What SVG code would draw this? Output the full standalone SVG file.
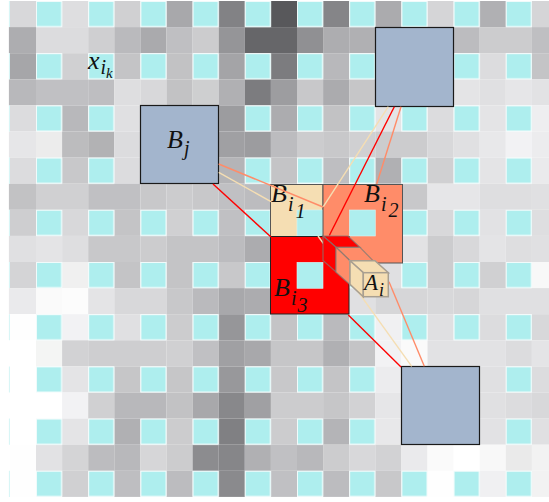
<svg xmlns="http://www.w3.org/2000/svg" width="549" height="502" viewBox="0 0 549 502">
<style>
.m{font-family:"Liberation Serif","DejaVu Serif",serif;font-style:italic;font-size:26px;fill:#111}
.s{font-size:20px}
.b{fill:#a3b5cd;stroke:#1a1a1a;stroke-width:1.2}
.l{fill:none;stroke-width:1.4}
.r{stroke:#f00}.o{stroke:#ff8c69}.w{stroke:#f5deb3}
.c{stroke:#7f7a74;stroke-width:1.2;stroke-opacity:.75}
.t{stroke:#a89f91;stroke-width:1.5}
.h{fill:#aeeeee;stroke:#d8f6f6;stroke-width:.6}
</style>
<defs>
<pattern id="cy" patternUnits="userSpaceOnUse" x="36" y="1" width="52" height="52"><rect x=".5" y=".5" width="25" height="25" fill="#aeeeee" stroke="#f0fbfb" stroke-width="1"/></pattern>
</defs>
<rect width="549" height="502" fill="#fff"/>
<g id="grid" transform="translate(-.139 -.004) scale(1.00385)">
<g id="r0"><rect x="10" y="1" width="26" height="26" fill="#d8d8da"/><rect x="62" y="1" width="26" height="26" fill="#dedee0"/><rect x="114" y="1" width="26" height="26" fill="#d0d0d2"/><rect x="166" y="1" width="26" height="26" fill="#a8a8ab"/><rect x="218" y="1" width="26" height="26" fill="#828285"/><rect x="270" y="1" width="26" height="26" fill="#58585b"/><rect x="322" y="1" width="26" height="26" fill="#858588"/><rect x="374" y="1" width="26" height="26" fill="#ababae"/><rect x="426" y="1" width="26" height="26" fill="#d5d5d7"/><rect x="478" y="1" width="26" height="26" fill="#b0b0b3"/><rect x="530" y="1" width="19" height="26" fill="#d5d5d7"/></g>
<g id="r1"><rect x="9" y="27" width="27" height="26" fill="#adadb0"/><rect x="36" y="27" width="52" height="26" fill="#dcdcde"/><rect x="88" y="27" width="26" height="26" fill="#cfcfd1"/><rect x="114" y="27" width="26" height="26" fill="#bababd"/><rect x="140" y="27" width="26" height="26" fill="#aaaaad"/><rect x="166" y="27" width="26" height="26" fill="#bfbfc2"/><rect x="192" y="27" width="26" height="26" fill="#ccccce"/><rect x="218" y="27" width="26" height="26" fill="#959598"/><rect x="244" y="27" width="52" height="26" fill="#666669"/><rect x="296" y="27" width="26" height="26" fill="#909093"/><rect x="322" y="27" width="26" height="26" fill="#adadb0"/><rect x="348" y="27" width="26" height="26" fill="#b0b0b3"/><rect x="374" y="27" width="78" height="26" fill="#a9a9ac"/><rect x="452" y="27" width="26" height="26" fill="#bcbcbf"/><rect x="478" y="27" width="52" height="26" fill="#ccccce"/><rect x="530" y="27" width="19" height="26" fill="#bfbfc2"/></g>
<g id="r2"><rect x="10" y="53" width="26" height="26" fill="#a6a6a9"/><rect x="62" y="53" width="26" height="26" fill="#d0d0d2"/><rect x="114" y="53" width="26" height="26" fill="#c4c4c6"/><rect x="166" y="53" width="26" height="26" fill="#c2c2c4"/><rect x="218" y="53" width="26" height="26" fill="#a4a4a7"/><rect x="270" y="53" width="26" height="26" fill="#7c7c7f"/><rect x="322" y="53" width="26" height="26" fill="#b8b8bb"/><rect x="478" y="53" width="26" height="26" fill="#dcdcde"/><rect x="530" y="53" width="19" height="26" fill="#c4c4c6"/></g>
<g id="r3"><rect x="9" y="79" width="27" height="26" fill="#b8b8bb"/><rect x="36" y="79" width="52" height="26" fill="#c0c0c3"/><rect x="88" y="79" width="26" height="26" fill="#bebec1"/><rect x="114" y="79" width="26" height="26" fill="#dedee0"/><rect x="140" y="79" width="26" height="26" fill="#d8d8da"/><rect x="166" y="79" width="26" height="26" fill="#c2c2c4"/><rect x="192" y="79" width="26" height="26" fill="#cecfd0"/><rect x="218" y="79" width="26" height="26" fill="#b0b0b3"/><rect x="244" y="79" width="26" height="26" fill="#7c7c7f"/><rect x="270" y="79" width="26" height="26" fill="#9d9da0"/><rect x="296" y="79" width="26" height="26" fill="#c8c8ca"/><rect x="322" y="79" width="26" height="26" fill="#ababae"/><rect x="348" y="79" width="26" height="26" fill="#c6c6c8"/><rect x="452" y="79" width="26" height="26" fill="#e4e4e6"/><rect x="478" y="79" width="26" height="26" fill="#e0e0e2"/><rect x="504" y="79" width="26" height="26" fill="#e6e6e8"/><rect x="530" y="79" width="19" height="26" fill="#e2e2e4"/></g>
<g id="r4"><rect x="10" y="105" width="26" height="26" fill="#dcdcde"/><rect x="62" y="105" width="26" height="26" fill="#b8b8bb"/><rect x="114" y="105" width="26" height="26" fill="#e0e0e2"/><rect x="218" y="105" width="26" height="26" fill="#9c9c9f"/><rect x="270" y="105" width="26" height="26" fill="#acacaf"/><rect x="322" y="105" width="26" height="26" fill="#c2c2c4"/><rect x="374" y="105" width="26" height="26" fill="#e4e4e6"/><rect x="426" y="105" width="26" height="26" fill="#dcdcde"/><rect x="478" y="105" width="26" height="26" fill="#e4e4e6"/><rect x="530" y="105" width="19" height="26" fill="#eeeef0"/></g>
<g id="r5"><rect x="9" y="131" width="27" height="26" fill="#e6e6e8"/><rect x="36" y="131" width="26" height="26" fill="#ececec"/><rect x="62" y="131" width="26" height="26" fill="#bcbcbe"/><rect x="88" y="131" width="26" height="26" fill="#b2b2b4"/><rect x="114" y="131" width="26" height="26" fill="#dcdcde"/><rect x="218" y="131" width="26" height="26" fill="#a0a0a3"/><rect x="244" y="131" width="26" height="26" fill="#9c9c9f"/><rect x="270" y="131" width="26" height="26" fill="#bcbcbf"/><rect x="296" y="131" width="26" height="26" fill="#ccccce"/><rect x="322" y="131" width="26" height="26" fill="#c8c8ca"/><rect x="348" y="131" width="26" height="26" fill="#d0d0d2"/><rect x="374" y="131" width="52" height="26" fill="#ccccce"/><rect x="426" y="131" width="26" height="26" fill="#d8d8da"/><rect x="452" y="131" width="26" height="26" fill="#e0e0e2"/><rect x="478" y="131" width="26" height="26" fill="#e8e8ea"/><rect x="504" y="131" width="26" height="26" fill="#f2f2f4"/><rect x="530" y="131" width="19" height="26" fill="#ececee"/></g>
<g id="r6"><rect x="10" y="157" width="26" height="26" fill="#dcdcde"/><rect x="62" y="157" width="26" height="26" fill="#c8c8ca"/><rect x="114" y="157" width="26" height="26" fill="#dcdcde"/><rect x="218" y="157" width="26" height="26" fill="#b4b4b7"/><rect x="270" y="157" width="26" height="26" fill="#c4c4c6"/><rect x="322" y="157" width="26" height="26" fill="#bebec1"/><rect x="374" y="157" width="26" height="26" fill="#b0b0b3"/><rect x="426" y="157" width="26" height="26" fill="#d0d0d2"/><rect x="478" y="157" width="26" height="26" fill="#e4e4e6"/><rect x="530" y="157" width="19" height="26" fill="#eaeaec"/></g>
<g id="r7"><rect x="9" y="183" width="27" height="26" fill="#c2c2c4"/><rect x="36" y="183" width="52" height="26" fill="#d0d0d2"/><rect x="88" y="183" width="52" height="26" fill="#c0c0c3"/><rect x="140" y="183" width="26" height="26" fill="#c8c8ca"/><rect x="166" y="183" width="26" height="26" fill="#ccccce"/><rect x="192" y="183" width="26" height="26" fill="#c8c8ca"/><rect x="218" y="183" width="26" height="26" fill="#c0c0c3"/><rect x="244" y="183" width="26" height="26" fill="#bcbcbf"/><rect x="400" y="183" width="26" height="26" fill="#c8c8ca"/><rect x="426" y="183" width="52" height="26" fill="#e6e6e8"/><rect x="478" y="183" width="52" height="26" fill="#dedee0"/><rect x="530" y="183" width="19" height="26" fill="#e0e0e2"/></g>
<g id="r8"><rect x="10" y="209" width="26" height="26" fill="#ceced0"/><rect x="62" y="209" width="26" height="26" fill="#d8d8da"/><rect x="114" y="209" width="26" height="26" fill="#c4c4c6"/><rect x="166" y="209" width="26" height="26" fill="#d0d0d2"/><rect x="218" y="209" width="26" height="26" fill="#c0c0c3"/><rect x="426" y="209" width="26" height="26" fill="#d8d8da"/><rect x="478" y="209" width="26" height="26" fill="#e2e2e4"/><rect x="530" y="209" width="19" height="26" fill="#dedee0"/></g>
<g id="r9"><rect x="9" y="235" width="27" height="26" fill="#e0e0e2"/><rect x="36" y="235" width="26" height="26" fill="#e4e4e6"/><rect x="62" y="235" width="26" height="26" fill="#dedee0"/><rect x="88" y="235" width="52" height="26" fill="#c8c8ca"/><rect x="140" y="235" width="26" height="26" fill="#ccccce"/><rect x="166" y="235" width="52" height="26" fill="#c4c4c6"/><rect x="218" y="235" width="26" height="26" fill="#bcbcbf"/><rect x="244" y="235" width="26" height="26" fill="#acacaf"/><rect x="400" y="235" width="26" height="26" fill="#e2e2e4"/><rect x="426" y="235" width="26" height="26" fill="#ccccce"/><rect x="452" y="235" width="26" height="26" fill="#d8d8da"/><rect x="478" y="235" width="26" height="26" fill="#e4e4e6"/><rect x="504" y="235" width="26" height="26" fill="#dedee0"/><rect x="530" y="235" width="19" height="26" fill="#e0e0e2"/></g>
<g id="r10"><rect x="10" y="261" width="26" height="26" fill="#d4d4d6"/><rect x="62" y="261" width="26" height="26" fill="#f0f0f0"/><rect x="114" y="261" width="26" height="26" fill="#c4c4c6"/><rect x="166" y="261" width="26" height="26" fill="#c4c4c6"/><rect x="218" y="261" width="26" height="26" fill="#c8c8ca"/><rect x="374" y="261" width="26" height="26" fill="#e0e0e2"/><rect x="426" y="261" width="26" height="26" fill="#ccccce"/><rect x="478" y="261" width="26" height="26" fill="#d0d0d2"/><rect x="530" y="261" width="19" height="26" fill="#f8f8f8"/></g>
<g id="r11"><rect x="9" y="287" width="27" height="26" fill="#eaeaec"/><rect x="36" y="287" width="26" height="26" fill="#fafafa"/><rect x="62" y="287" width="26" height="26" fill="#fcfcfc"/><rect x="88" y="287" width="26" height="26" fill="#e4e4e6"/><rect x="114" y="287" width="52" height="26" fill="#d8d8da"/><rect x="166" y="287" width="26" height="26" fill="#c8c8ca"/><rect x="192" y="287" width="26" height="26" fill="#bababd"/><rect x="218" y="287" width="26" height="26" fill="#a8a8ab"/><rect x="244" y="287" width="26" height="26" fill="#acacaf"/><rect x="322" y="287" width="52" height="26" fill="#e0e0e2"/><rect x="374" y="287" width="52" height="26" fill="#d6d6d8"/><rect x="426" y="287" width="26" height="26" fill="#d8d8da"/><rect x="452" y="287" width="26" height="26" fill="#d6d6d8"/><rect x="478" y="287" width="71" height="26" fill="#e0e0e2"/></g>
<g id="r12"><rect x="10" y="313" width="26" height="26" fill="#fefefe"/><rect x="62" y="313" width="26" height="26" fill="#f2f2f4"/><rect x="114" y="313" width="26" height="26" fill="#e0e0e2"/><rect x="166" y="313" width="26" height="26" fill="#ccccce"/><rect x="218" y="313" width="26" height="26" fill="#969699"/><rect x="270" y="313" width="26" height="26" fill="#c4c4c6"/><rect x="322" y="313" width="26" height="26" fill="#bababd"/><rect x="374" y="313" width="26" height="26" fill="#f0f0f2"/><rect x="426" y="313" width="26" height="26" fill="#e0e0e2"/><rect x="478" y="313" width="26" height="26" fill="#dcdcde"/><rect x="530" y="313" width="19" height="26" fill="#d8d8da"/></g>
<g id="r13"><rect x="10" y="339" width="26" height="26" fill="#ffffff"/><rect x="36" y="339" width="26" height="26" fill="#f4f5f4"/><rect x="62" y="339" width="26" height="26" fill="#d2d2d4"/><rect x="88" y="339" width="78" height="26" fill="#ceced0"/><rect x="166" y="339" width="26" height="26" fill="#d0d0d2"/><rect x="192" y="339" width="26" height="26" fill="#c0c0c3"/><rect x="218" y="339" width="26" height="26" fill="#a0a0a3"/><rect x="244" y="339" width="26" height="26" fill="#a8a8ab"/><rect x="270" y="339" width="52" height="26" fill="#c6c6c8"/><rect x="322" y="339" width="26" height="26" fill="#b0b0b3"/><rect x="348" y="339" width="26" height="26" fill="#c4c4c6"/><rect x="374" y="339" width="26" height="26" fill="#f2f2f4"/><rect x="400" y="339" width="26" height="26" fill="#fafafa"/><rect x="426" y="339" width="78" height="26" fill="#e2e2e4"/><rect x="504" y="339" width="26" height="26" fill="#dcdcde"/><rect x="530" y="339" width="19" height="26" fill="#e4e4e6"/></g>
<g id="r14"><rect x="10" y="365" width="26" height="26" fill="#ffffff"/><rect x="62" y="365" width="26" height="26" fill="#e4e4e6"/><rect x="114" y="365" width="26" height="26" fill="#c6c6c8"/><rect x="166" y="365" width="26" height="26" fill="#c6c6c8"/><rect x="218" y="365" width="26" height="26" fill="#98989b"/><rect x="270" y="365" width="26" height="26" fill="#c8c8ca"/><rect x="322" y="365" width="26" height="26" fill="#c4c4c6"/><rect x="374" y="365" width="26" height="26" fill="#ececee"/><rect x="426" y="365" width="26" height="26" fill="#e2e2e4"/><rect x="478" y="365" width="26" height="26" fill="#e0e0e2"/><rect x="530" y="365" width="19" height="26" fill="#dcdcde"/></g>
<g id="r15"><rect x="10" y="391" width="52" height="26" fill="#ffffff"/><rect x="62" y="391" width="26" height="26" fill="#f2f2f4"/><rect x="88" y="391" width="26" height="26" fill="#d0d0d2"/><rect x="114" y="391" width="52" height="26" fill="#b8b8bb"/><rect x="166" y="391" width="26" height="26" fill="#c2c2c4"/><rect x="192" y="391" width="26" height="26" fill="#a8a8ab"/><rect x="218" y="391" width="26" height="26" fill="#88888b"/><rect x="244" y="391" width="26" height="26" fill="#a0a0a3"/><rect x="270" y="391" width="52" height="26" fill="#ccccce"/><rect x="322" y="391" width="26" height="26" fill="#c6c6c8"/><rect x="348" y="391" width="26" height="26" fill="#d2d2d4"/><rect x="374" y="391" width="26" height="26" fill="#e6e6e8"/><rect x="478" y="391" width="26" height="26" fill="#e0e0e2"/><rect x="504" y="391" width="26" height="26" fill="#dcdcde"/><rect x="530" y="391" width="19" height="26" fill="#d8d8da"/></g>
<g id="r16"><rect x="10" y="417" width="26" height="26" fill="#ffffff"/><rect x="62" y="417" width="26" height="26" fill="#e4e4e6"/><rect x="114" y="417" width="26" height="26" fill="#b0b0b3"/><rect x="166" y="417" width="26" height="26" fill="#ccccce"/><rect x="218" y="417" width="26" height="26" fill="#808083"/><rect x="270" y="417" width="26" height="26" fill="#ccccce"/><rect x="322" y="417" width="26" height="26" fill="#b4b4b7"/><rect x="374" y="417" width="26" height="26" fill="#e8e8ea"/><rect x="478" y="417" width="26" height="26" fill="#e2e2e4"/><rect x="530" y="417" width="19" height="26" fill="#e0e0e2"/></g>
<g id="r17"><rect x="10" y="443" width="26" height="26" fill="#fefefe"/><rect x="36" y="443" width="26" height="26" fill="#e2e2e4"/><rect x="62" y="443" width="26" height="26" fill="#d4d4d6"/><rect x="88" y="443" width="26" height="26" fill="#bcbcbf"/><rect x="114" y="443" width="26" height="26" fill="#b8b8bb"/><rect x="140" y="443" width="26" height="26" fill="#d6d6d8"/><rect x="166" y="443" width="26" height="26" fill="#ccccce"/><rect x="192" y="443" width="26" height="26" fill="#8c8c8f"/><rect x="218" y="443" width="26" height="26" fill="#868689"/><rect x="244" y="443" width="26" height="26" fill="#b0b0b3"/><rect x="270" y="443" width="26" height="26" fill="#c0c0c3"/><rect x="296" y="443" width="26" height="26" fill="#b8b8bb"/><rect x="322" y="443" width="26" height="26" fill="#ccccce"/><rect x="348" y="443" width="26" height="26" fill="#d8d8da"/><rect x="374" y="443" width="26" height="26" fill="#d2d2d4"/><rect x="400" y="443" width="26" height="26" fill="#eaeaec"/><rect x="426" y="443" width="26" height="26" fill="#fafafa"/><rect x="452" y="443" width="26" height="26" fill="#ffffff"/><rect x="478" y="443" width="26" height="26" fill="#f8f8f8"/><rect x="504" y="443" width="26" height="26" fill="#eaeaea"/><rect x="530" y="443" width="19" height="26" fill="#f2f2f2"/></g>
<g id="r18"><rect x="10" y="469" width="26" height="26" fill="#fefefe"/><rect x="62" y="469" width="26" height="26" fill="#d0d0d2"/><rect x="114" y="469" width="26" height="26" fill="#bebec1"/><rect x="166" y="469" width="26" height="26" fill="#bcbcbf"/><rect x="218" y="469" width="26" height="26" fill="#8a8a8d"/><rect x="270" y="469" width="26" height="26" fill="#c0c0c3"/><rect x="322" y="469" width="26" height="26" fill="#bcbcbf"/><rect x="374" y="469" width="26" height="26" fill="#c8c8ca"/><rect x="426" y="469" width="26" height="26" fill="#fefefe"/><rect x="478" y="469" width="26" height="26" fill="#f0f0f2"/><rect x="530" y="469" width="19" height="26" fill="#f2f2f2"/></g>
<path id="edge" fill="#d4f5f5" d="M9 1h1v26h-1zM9 53h1v26h-1zM9 105h1v26h-1zM9 157h1v26h-1zM9 209h1v26h-1zM9 261h1v26h-1zM9 313h1v26h-1zM9 365h1v26h-1zM9 417h1v26h-1zM9 469h1v26h-1z"/>
<rect id="cells" x="36" y="1" width="494" height="494" fill="url(#cy)"/>
</g>
<g id="node-bj"><rect class="b" x="140.5" y="105.5" width="78" height="78"/><text class="m" x="167" y="148">B<tspan class="s" dx="1" dy="7">j</tspan></text></g>
<g id="node-top"><rect class="b" x="375.5" y="27.5" width="78" height="79"/></g>
<g id="node-bottom"><rect class="b" x="401.5" y="366.5" width="78" height="78"/></g>
<g id="node-bi1"><rect x="270.5" y="184.5" width="52.5" height="52" fill="#f5deb3" stroke="#555"/><rect class="h" x="297" y="210" width="26" height="26"/><text class="m" x="271" y="202">B<tspan class="s" dx="1" dy="9">i</tspan><tspan class="s" dx="2" dy="7">1</tspan></text></g>
<g id="node-bi2"><rect x="323" y="184.5" width="79.5" height="78.5" fill="#ff8c69" stroke="#555"/><rect class="h" x="349.3" y="210" width="26" height="26"/><text class="m" x="364" y="202">B<tspan class="s" dx="1" dy="9">i</tspan><tspan class="s" dx="2" dy="6">2</tspan></text></g>
<g id="node-bi3"><rect x="270.5" y="236.5" width="78.5" height="77.5" fill="#f00" stroke="#222"/><rect class="h" x="297" y="262.3" width="26" height="26"/><text class="m" x="274" y="296">B<tspan class="s" dx="1" dy="9">i</tspan><tspan class="s" dx="1" dy="7">3</tspan></text></g>
<g id="node-x"><text class="m" x="88" y="69" font-size="28">x<tspan class="s" dx="1" dy="5">i</tspan><tspan font-size="15" dx="0" dy="4">k</tspan></text></g>
<g id="connectors">
<path class="l r" d="M213 184L271 237"/>
<path class="l o" d="M218.7 164L323 207"/>
<path class="l w" d="M218.7 172.3L271 201.7"/>
<path class="l r" d="M394.3 106.7L329.3 235.5"/>
<path class="l o" d="M401 106.7L376.7 184"/>
<path class="l w" d="M388.3 106.7L323.3 206.7"/>
<path class="l r" d="M348.3 315L401 367"/>
<path class="l w" d="M411.7 366.3L318 236"/>
<path class="l o" d="M424.3 366.3L389 281.7"/>
</g>
<g id="node-ai">
<path class="c" fill="#f00" d="M323 236h25l12 11.3h-24z"/>
<path class="c" fill="#f00" d="M323 236l13 11.3v24.7l-13-11.5z"/>
<path class="c" fill="#ff8c69" d="M336 247.3h24l13 13.4h-23z"/>
<path class="c" fill="#ff8c69" d="M336 247.3l14 13.4v24l-14-12.5z"/>
<path class="t" fill="#f5deb3" d="M350 260.7h25l13.3 12h-25z"/>
<path class="t" fill="#f5deb3" d="M350 260.7l13.3 12v24l-13.3-12.3z"/>
<rect class="t" x="363.3" y="272.7" width="25" height="24" fill="#f5deb3"/>
<text class="m" x="364" y="290" style="font-size:23px">A<tspan style="font-size:18px" dx="1" dy="6">i</tspan></text>
</g>
</svg>
